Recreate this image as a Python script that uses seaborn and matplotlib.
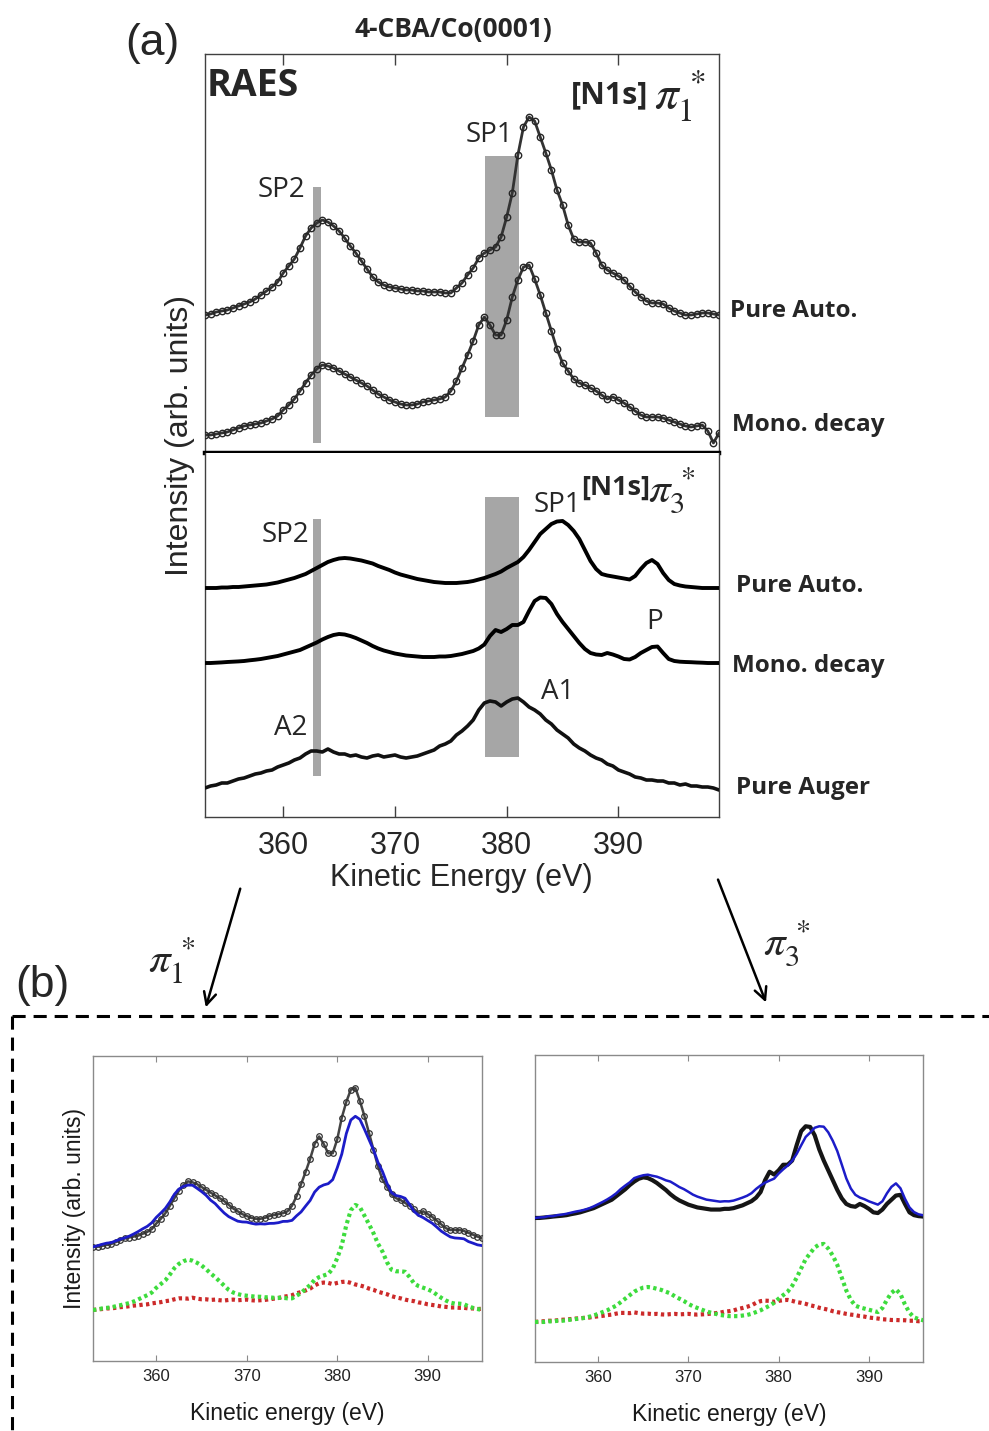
import numpy as np
import matplotlib
matplotlib.use("Agg")
import matplotlib.pyplot as plt
from matplotlib.lines import Line2D
from matplotlib.patches import FancyArrowPatch
import seaborn as sns

# ---------------------------------------------------------------------------
# Spectra on a 0.5 eV kinetic-energy grid, 353 ... 399 eV (arb. units)
# ---------------------------------------------------------------------------
energy = np.arange(353.0, 399.01, 0.5)

# [N1s] pi1* : pure autoionization (spectator) and mono-energetic decay
auto1 = [0, 1, 3, 4, 5, 7, 9, 11, 13, 16,
         20, 24, 28, 33, 42, 49, 56, 67, 79, 87,
         92, 95, 93, 89, 84, 77, 69, 62, 54, 46,
         38, 33, 30, 28, 27, 26, 25, 25, 24, 24,
         23, 23, 23, 22, 22, 27, 32, 40, 47, 57,
         62, 65, 68, 78, 98, 122, 160, 188, 198, 194,
         178, 162, 145, 125, 110, 90, 76, 73, 73, 72,
         62, 50, 45, 42, 39, 35, 29, 23, 18, 14,
         12, 12, 11, 7, 4, 2, 0, 0, 1, 2,
         2, 1, 0]
mono1 = [0, 0, 1, 2, 3, 5, 7, 9, 10, 11,
         12, 14, 16, 19, 25, 30, 36, 44, 52, 60,
         66, 70, 69, 67, 64, 61, 58, 55, 52, 49,
         45, 41, 38, 35, 33, 31, 30, 30, 31, 33,
         34, 35, 36, 38, 44, 54, 67, 80, 94, 110,
         118, 110, 100, 100, 115, 138, 155, 168, 170, 156,
         140, 122, 104, 86, 72, 64, 56, 52, 50, 47,
         44, 40, 36, 38, 35, 32, 28, 24, 20, 18,
         18, 18, 17, 15, 13, 11, 9, 8, 9, 10,
         4, -8, 2]

# [N1s] pi3* : pure autoionization and mono-energetic decay
auto3 = [0, 0, 0, 0.5, 0.5, 1, 1, 1.5, 2, 2.5,
         3, 3.5, 4.5, 5.5, 7, 8.5, 10, 12, 14, 17,
         20, 23, 26, 28, 29.5, 30, 29.5, 28.5, 27.5, 26,
         24.5, 22, 20, 18, 15.5, 13.5, 12, 10.5, 9, 8,
         7, 6, 5.5, 5, 5, 5, 5.5, 6, 7, 8.5,
         10, 12, 14, 16.5, 20, 23, 26, 31, 38, 46,
         54, 59, 64, 66.5, 67, 63, 57, 49, 38, 27,
         19, 14, 12.5, 11.5, 10.5, 9.5, 8.5, 12, 19, 25,
         28, 24, 15, 8, 4, 2.5, 1.5, 1, 0.5, 0,
         0, 0, 0]
mono3 = [0, 0, 0.3, 0.6, 1, 1.3, 1.6, 2, 2.7, 3.3,
         4, 5, 6, 7, 8.5, 10, 11.5, 13, 15.5, 18,
         20.5, 23.5, 26, 28, 29, 28.5, 27, 25, 22.5, 20,
         17, 14.5, 12.5, 11, 9.5, 8.5, 7.5, 7, 6.5, 6,
         6, 6, 6.5, 6.5, 7, 8, 9, 10.5, 12, 14.5,
         18.5, 27, 33, 31, 34, 38, 38, 41, 52, 62,
         65.5, 65, 59, 49, 41, 34, 27, 20, 14, 10,
         8.5, 8, 10, 8.5, 6.5, 4, 3.5, 6, 10, 13,
         16, 16.5, 10, 4, 2, 1.3, 1, 0.8, 0.5, 0.3,
         0, 0, 0]

# pure (normal) Auger spectrum
auger = [0, 2, 3, 5, 5, 7, 9, 10, 12, 14,
         15, 17, 18, 21, 23, 25, 28, 30, 34, 37,
         37, 36, 39, 36, 34, 34, 32, 33, 31, 30,
         32, 33, 31, 32, 33, 31, 30, 31, 32, 34,
         36, 38, 42, 44, 47, 53, 57, 62, 68, 78,
         85, 87, 86, 82, 86, 89, 90, 86, 81, 78,
         74, 68, 64, 58, 54, 50, 44, 40, 37, 33,
         30, 28, 24, 22, 18, 16, 14, 11, 10, 8,
         8, 7, 7, 5, 5, 3, 4, 2, 2, 1,
         1, 0, -2]

auto1, mono1, auto3, mono3, auger = map(np.asarray, (auto1, mono1, auto3, mono3, auger))

# weights of the two-component fit (autoionization + Auger) in units of the mono-decay spectrum
W_AUTO1, W_AUGER1 = 0.567, 0.337
W_AUTO3, W_AUGER3 = 0.832, 0.175

# shaded energy windows (eV) of the SP2 and SP1 features
sp2_window = (362.7, 363.4)
sp1_window = (378.1, 381.1)

# ---------------------------------------------------------------------------
sns.set_theme(style="white")
plt.rcParams["font.family"] = ["Liberation Sans", "DejaVu Sans"]
plt.rcParams["mathtext.fontset"] = "stix"

W, H = 989, 1431
fig = plt.figure(figsize=(W / 100, H / 100), dpi=100)
fig.patch.set_facecolor("white")


def fx(px):
    return px / W


def fy(py):
    return 1 - py / H


def axes_px(x0, y0, x1, y1):
    return fig.add_axes([fx(x0), fy(y1), fx(x1) - fx(x0), fy(y0) - fy(y1)])


BAR_C = "#a6a6a6"
SPINE_C = "#404040"

# ---------------------------------------------------------------- panel (a)
ax_top = axes_px(205, 54, 719, 453)
ax_bot = axes_px(205, 453, 719, 817)

for ax in (ax_top, ax_bot):
    ax.set_xlim(353, 399)
    ax.set_yticks([])
    ax.set_xlabel("")
    ax.set_ylabel("")
    for s in ax.spines.values():
        s.set_color(SPINE_C)
        s.set_linewidth(1.0)
ax_top.set_ylim(0, 399)
ax_bot.set_ylim(0, 364)
ax_top.spines["bottom"].set_color("black")
ax_top.spines["bottom"].set_linewidth(3.2)
ax_bot.spines["top"].set_visible(False)

ax_top.set_xticks([360, 370, 380, 390])
ax_top.tick_params(axis="x", direction="in", top=True, bottom=False,
                   labeltop=False, labelbottom=False, length=8, width=1, color=SPINE_C)
ax_bot.set_xticks([360, 370, 380, 390])
ax_bot.tick_params(axis="x", direction="in", top=False, bottom=True,
                   labelbottom=True, length=8, width=1, color=SPINE_C,
                   labelsize=22, pad=10)


def shade(ax, window, lo, hi):
    ax.bar(x=(window[0] + window[1]) / 2, height=hi - lo, bottom=lo,
           width=window[1] - window[0], color=BAR_C, zorder=1, linewidth=0)


shade(ax_top, sp2_window, 10, 266)
shade(ax_top, sp1_window, 36, 297)
shade(ax_bot, sp2_window, 41, 298)
shade(ax_bot, sp1_window, 60, 320)

circ = dict(marker="o", markersize=4.6, markerfacecolor="none",
            markeredgecolor="#262626", markeredgewidth=1.0)
sns.lineplot(x=energy, y=auto1 + 138, ax=ax_top, color="#333333", lw=2.0,
             legend=False, zorder=3, **circ)
sns.lineplot(x=energy, y=mono1 + 18, ax=ax_top, color="#333333", lw=2.0,
             legend=False, zorder=3, **circ)

sns.lineplot(x=energy, y=auto3 + 229, ax=ax_bot, color="black", lw=2.8,
             legend=False, zorder=3)
sns.lineplot(x=energy, y=mono3 + 154, ax=ax_bot, color="black", lw=2.8,
             legend=False, zorder=3)
sns.lineplot(x=energy, y=auger + 29, ax=ax_bot, color="#111111", lw=2.6,
             legend=False, zorder=3)

# ---------------------------------------------------------------- panel (b)
BLUE = "#1c1cc8"
GREEN = "#3ddc3d"
RED = "#cc2a2a"
B_SPINE = "#8a8a8a"

ax_b1 = axes_px(93, 1056, 482, 1361)
ax_b2 = axes_px(535, 1055, 923, 1362)
for ax in (ax_b1, ax_b2):
    ax.set_xlim(353, 396)
    ax.set_xticks([360, 370, 380, 390])
    ax.set_yticks([])
    for s in ax.spines.values():
        s.set_color(B_SPINE)
        s.set_linewidth(1.0)
    ax.tick_params(axis="x", direction="in", top=True, bottom=True, length=4,
                   width=0.8, color=B_SPINE, labelsize=12, pad=6, labelcolor="#222222")
    ax.set_xlabel("Kinetic energy (eV)", fontsize=16.5, labelpad=13, color="#1a1a1a")

ax_b1.set_ylabel("Intensity (arb. units)", fontsize=16.5, labelpad=5, color="#1a1a1a")
ax_b2.set_ylabel("")

# pi1* : mono decay, its fit and the two fit components
ax_b1.set_ylim(0, 326)
off_top1, off_low1 = 122, 54.5
sns.lineplot(x=energy, y=mono1 + off_top1, ax=ax_b1, color="#444444", lw=1.8,
             legend=False, zorder=3, marker="o", markersize=4.0,
             markerfacecolor="none", markeredgecolor="#333333", markeredgewidth=0.9)
fit1 = W_AUTO1 * auto1 + W_AUGER1 * auger
sns.lineplot(x=energy, y=fit1 + off_top1, ax=ax_b1, color=BLUE, lw=2.0,
             legend=False, zorder=4)
sns.lineplot(x=energy, y=W_AUGER1 * auger + off_low1, ax=ax_b1, color=RED, lw=3.0,
             linestyle=(0, (0.8, 0.8)), legend=False, zorder=3)
sns.lineplot(x=energy, y=W_AUTO1 * auto1 + off_low1, ax=ax_b1, color=GREEN, lw=3.0,
             linestyle=(0, (0.8, 0.8)), legend=False, zorder=4)

# pi3* : mono decay, its fit and the two fit components
ax_b2.set_ylim(0, 219.3)
off_top3, off_low3 = 102.9, 28.6
sns.lineplot(x=energy, y=mono3 + off_top3, ax=ax_b2, color="#151515", lw=3.0,
             legend=False, zorder=3)
fit3 = W_AUTO3 * auto3 + W_AUGER3 * auger
sns.lineplot(x=energy, y=fit3 + off_top3, ax=ax_b2, color=BLUE, lw=1.8,
             legend=False, zorder=4)
sns.lineplot(x=energy, y=W_AUGER3 * auger + off_low3, ax=ax_b2, color=RED, lw=3.0,
             linestyle=(0, (0.8, 0.8)), legend=False, zorder=3)
sns.lineplot(x=energy, y=W_AUTO3 * auto3 + off_low3, ax=ax_b2, color=GREEN, lw=3.0,
             linestyle=(0, (0.8, 0.8)), legend=False, zorder=4)

# ---------------------------------------------------------------- texts
CAL = ["Open Sans", "DejaVu Sans"]


def txt(px, py, s, **kw):
    kw.setdefault("ha", "center")
    kw.setdefault("va", "center")
    fig.text(fx(px), fy(py), s, **kw)


txt(152, 44, "(a)", fontsize=32)
txt(42, 985, "(b)", fontsize=32)
txt(453, 30, "4-CBA/Co(0001)", fontsize=19, fontweight="bold", family=CAL)
txt(207, 86, "RAES", fontsize=27, fontweight="bold", family=CAL, ha="left")

txt(571, 95, "[N1s]", fontsize=22, fontweight="bold", family=CAL, ha="left")
txt(654, 96, r"$\pi_{1}^{\,*}$", fontsize=34, ha="left")
txt(581, 488, "[N1s]", fontsize=19.5, fontweight="bold", family=CAL, ha="left")
txt(648, 490, r"$\pi_{3}^{\,*}$", fontsize=31, ha="left")

for px, py, s in [(281, 190, "SP2"), (489, 135, "SP1"), (285, 535, "SP2"),
                  (557, 505, "SP1"), (558, 692, "A1"), (291, 728, "A2"),
                  (655, 622, "P")]:
    txt(px, py, s, fontsize=20, family=CAL)

for px, py, s in [(730, 311, "Pure Auto."), (732, 425, "Mono. decay"),
                  (736, 586, "Pure Auto."), (732, 666, "Mono. decay"),
                  (736, 788, "Pure Auger")]:
    txt(px, py, s, fontsize=17.5, fontweight="bold", family=CAL, ha="left")

txt(180, 435, "Intensity (arb. units)", fontsize=23, rotation=90)
txt(461, 878, "Kinetic Energy (eV)", fontsize=22)

txt(172, 960, r"$\pi_{1}^{\,*}$", fontsize=31)
txt(787, 943, r"$\pi_{3}^{\,*}$", fontsize=31)

# arrows from panel (a) to the two fits
for (x0, y0), (x1, y1) in [((241, 886), (205, 1010)), ((717, 877), (767, 1005))]:
    fig.add_artist(FancyArrowPatch((fx(x0), fy(y0)), (fx(x1), fy(y1)),
                                   transform=fig.transFigure, arrowstyle="->",
                                   mutation_scale=22, lw=1.8, color="black"))

# dashed frame around panel (b)
dash = dict(color="black", lw=2.2, linestyle=(0, (4.3, 2.6)), transform=fig.transFigure)
fig.add_artist(Line2D([fx(12), fx(989)], [fy(1016), fy(1016)], **dash))
fig.add_artist(Line2D([fx(12), fx(12)], [fy(1016), fy(1431)], **dash))

fig.savefig("out.png", dpi=100, facecolor="white")
